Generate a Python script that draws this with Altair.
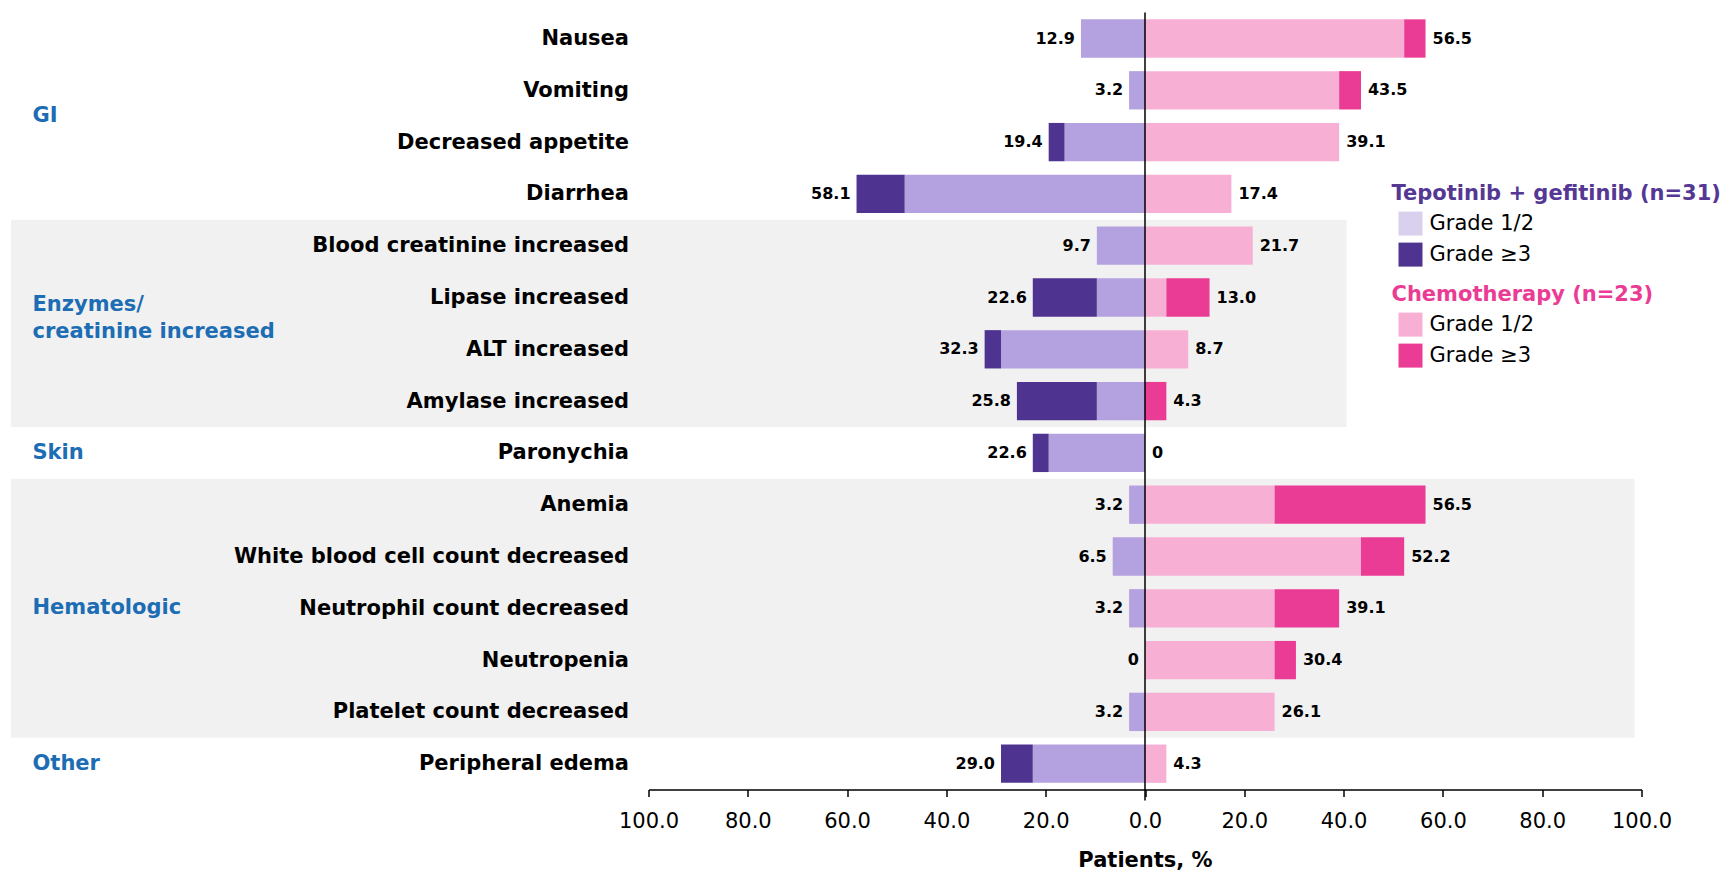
import json
import altair as alt
import pandas as pd

# ---------------- data ----------------
categories = [
    "Nausea", "Vomiting", "Decreased appetite", "Diarrhea",
    "Blood creatinine increased", "Lipase increased", "ALT increased",
    "Amylase increased", "Paronychia", "Anemia",
    "White blood cell count decreased", "Neutrophil count decreased",
    "Neutropenia", "Platelet count decreased", "Peripheral edema",
]
tep_grade12 = [12.9, 3.2, 16.2, 48.4, 9.7, 9.7, 29.0, 9.7, 19.4, 3.2, 6.5, 3.2, 0.0, 3.2, 22.6]
tep_total = [12.9, 3.2, 19.4, 58.1, 9.7, 22.6, 32.3, 25.8, 22.6, 3.2, 6.5, 3.2, 0.0, 3.2, 29.0]
chemo_grade12 = [52.2, 39.1, 39.1, 17.4, 21.7, 4.3, 8.7, 0.0, 0.0, 26.1, 43.5, 26.1, 26.1, 26.1, 4.3]
chemo_total = [56.5, 43.5, 39.1, 17.4, 21.7, 13.0, 8.7, 4.3, 0.0, 56.5, 52.2, 39.1, 30.4, 26.1, 4.3]
grades = ["Grade 1/2", "Grade \u22653"]

groups = ["GI", "Enzymes/\ncreatinine increased", "Skin", "Hematologic", "Other"]
group_first = [0, 4, 8, 9, 14]
group_last = [3, 7, 8, 13, 14]
shaded = [False, True, False, True, False]

x_ticks = [-100, -80, -60, -40, -20, 0, 20, 40, 60, 80, 100]

tep_title = "Tepotinib + gefitinib (n=31)"
chemo_title = "Chemotherapy (n=23)"
x_title = "Patients, %"

# ---------------- style ----------------
FONT = "DejaVu Sans"
TEP_LIGHT = "#b4a1df"
TEP_LEGEND = "#d9d0ee"
TEP_DARK = "#4f3390"
CH_LIGHT = "#f7b0d4"
CH_DARK = "#ea3c94"
BAND = "#f1f1f1"
GROUP_BLUE = "#1c6db4"

PLOT_W = 993
PLOT_H = 777
BAR_HALF = 0.37
BAND_LEFT = -228.4
BAND_RIGHT = [40.6, 98.6]
LINE_H = 27
NBSP2 = "\u00a0\u00a0"

# ---------------- tables ----------------
segs = []
labels = []
for i, c in enumerate(categories):
    for arm, sign, g12, tot in (("tep", -1, tep_grade12[i], tep_total[i]),
                                ("chemo", 1, chemo_grade12[i], chemo_total[i])):
        if g12 > 0:
            segs.append(dict(cat=c, row=i, arm=arm, grade=grades[0], x0=0.0, x1=sign * g12))
        if tot - g12 > 0.05:
            segs.append(dict(cat=c, row=i, arm=arm, grade=grades[1], x0=sign * g12, x1=sign * tot))
        labels.append(dict(cat=c, row=i, arm=arm, total=tot, xpos=sign * tot))
seg_df = pd.DataFrame(segs)
lab_df = pd.DataFrame(labels)

grp_df = pd.DataFrame(dict(name=groups, first=group_first, last=group_last, shaded=shaded))
band_df = grp_df[grp_df["shaded"]].copy()
band_df["x0"] = BAND_LEFT
band_df["x1"] = BAND_RIGHT

# ---------------- scales / axes ----------------
x_scale = alt.Scale(domain=[-100, 100], nice=False, zero=False)
y_scale = alt.Scale(domain=[-0.5, len(categories) - 0.5], reverse=True, nice=False, zero=False)

x_axis = alt.Axis(
    values=x_ticks,
    labelExpr=f"(datum.value < 0 ? '{NBSP2}' : '') + format(abs(datum.value), '.1f')",
    title=x_title,
    grid=False, domainColor="black", domainWidth=1.5, tickColor="black", tickWidth=1.5,
    tickSize=7, labelFont=FONT, labelFontSize=21, labelColor="black", labelPadding=14,
    labelFlush=False, labelOverlap=False, titleFont=FONT, titleFontSize=21,
    titleFontWeight="bold", titleColor="black", titlePadding=18, zindex=1,
)
y_axis = alt.Axis(
    values=list(range(len(categories))),
    labelExpr="[" + ",".join(json.dumps(c) for c in categories) + "][datum.value]",
    title=None, grid=False, domain=False, ticks=False, labelFont=FONT, labelFontSize=21,
    labelFontWeight="bold", labelColor="black", labelPadding=20, labelLimit=800,
    labelOverlap=False, zindex=1,
)


def X(field, **kw):
    return alt.X(field, type="quantitative", scale=x_scale, axis=x_axis, **kw)


def Y(field, **kw):
    return alt.Y(field, type="quantitative", scale=y_scale, axis=y_axis, **kw)


legend_common = dict(
    orient="none", direction="vertical", titleFont=FONT, titleFontSize=21,
    titleFontWeight="bold", titlePadding=8, titleLimit=600, labelFont=FONT,
    labelFontSize=21, labelColor="black", labelOffset=7, labelLimit=400,
    symbolType="square", symbolSize=576, symbolStrokeWidth=0, symbolOffset=7,
    rowPadding=7, padding=0,
)

# ---------------- layers ----------------
bands = alt.Chart(band_df).mark_rect(color=BAND).transform_calculate(
    yt="datum.first - 0.5", yb="datum.last + 0.5"
).encode(x=X("x0"), x2="x1", y=Y("yt"), y2="yb")

bar_base = alt.Chart(seg_df).transform_calculate(
    yt=f"datum.row - {BAR_HALF}", yb=f"datum.row + {BAR_HALF}"
)
tep_bars = bar_base.transform_filter("datum.arm == 'tep'").mark_rect().encode(
    x=X("x0"), x2="x1", y=Y("yt"), y2="yb",
    color=alt.Color("grade:N", scale=alt.Scale(domain=grades, range=[TEP_LIGHT, TEP_DARK]), legend=None),
)
chemo_bars = bar_base.transform_filter("datum.arm == 'chemo'").mark_rect().encode(
    x=X("x0"), x2="x1", y=Y("yt"), y2="yb",
    color=alt.Color(
        "grade:N", scale=alt.Scale(domain=grades, range=[CH_LIGHT, CH_DARK]),
        legend=alt.Legend(title=chemo_title, legendX=743, legendY=271, titleColor=CH_DARK,
                          **legend_common),
    ),
)

legend_dummy = alt.Chart(pd.DataFrame(dict(grade=grades))).mark_square(size=0).encode(
    x=alt.value(0), y=alt.value(0),
    color=alt.Color(
        "grade:N", scale=alt.Scale(domain=grades, range=[TEP_LEGEND, TEP_DARK]),
        legend=alt.Legend(title=tep_title, legendX=743, legendY=170, titleColor="#553794",
                          symbolOpacity=1, **legend_common),
    ),
)

zero_rule = alt.Chart(pd.DataFrame(dict(v=[0]))).mark_rule(color="black", strokeWidth=1.5).encode(
    x=X("v"), y=alt.value(0), y2=alt.value(PLOT_H + 11)
)

lab_base = alt.Chart(lab_df).transform_calculate(
    txt="datum.total == 0 ? '0' : format(datum.total, '.1f')"
)
tep_labels = lab_base.transform_filter("datum.arm == 'tep'").mark_text(
    align="right", baseline="middle", dx=-6, font=FONT, fontSize=16, fontWeight="bold", color="black"
).encode(x=X("xpos"), y=Y("row"), text="txt:N")
chemo_labels = lab_base.transform_filter("datum.arm == 'chemo'").mark_text(
    align="left", baseline="middle", dx=7, font=FONT, fontSize=16, fontWeight="bold", color="black"
).encode(x=X("xpos"), y=Y("row"), text="txt:N")

# the first line sits at the anchor: lift multi-line labels
row_px = PLOT_H / len(categories)
lift = (LINE_H / 2 + 5) / row_px
group_labels = alt.Chart(grp_df).transform_calculate(
    gy=f"(datum.first + datum.last) / 2 - (split(datum.name, '\\n').length - 1) * {lift:.4f}"
).mark_text(
    align="left", baseline="middle", lineBreak="\n", lineHeight=LINE_H, font=FONT, fontSize=21,
    fontWeight="bold", color=GROUP_BLUE,
).encode(x=alt.value(-616), y=Y("gy"), text="name:N")

chart = alt.layer(
    bands, tep_bars, chemo_bars, zero_rule, tep_labels, chemo_labels, group_labels, legend_dummy
).resolve_scale(color="independent").properties(
    width=PLOT_W, height=PLOT_H,
    autosize=alt.AutoSizeParams(type="none"),
    padding={"left": 640.5, "top": 4.6, "right": 84.5, "bottom": 82.4},
).configure(font=FONT, background="white").configure_view(strokeWidth=0)

chart.save("out.html", embed_options={"renderer": "svg", "actions": False})
